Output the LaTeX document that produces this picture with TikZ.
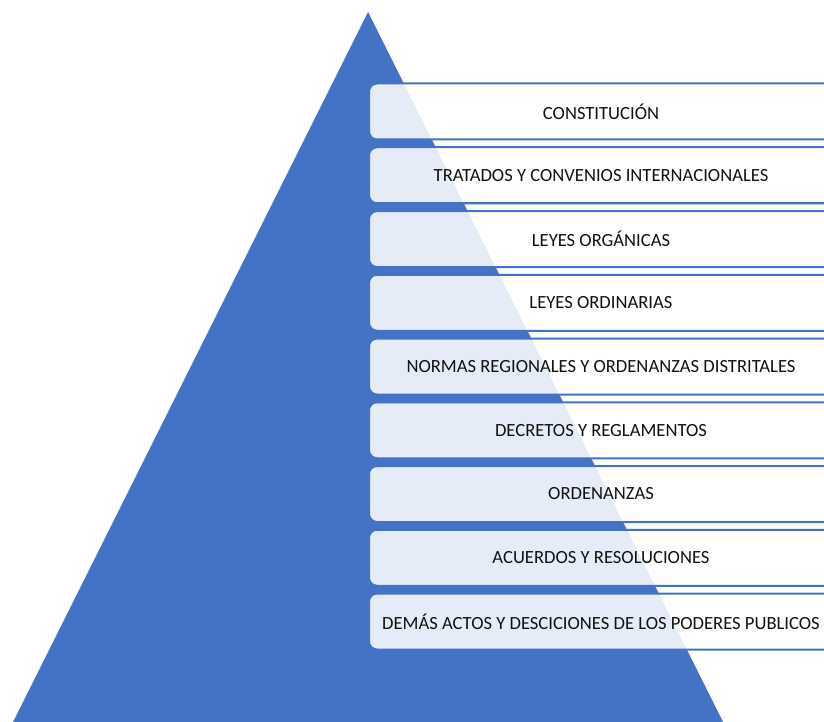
\documentclass[tikz,border=0pt]{standalone}
\usepackage{fontspec}
\setmainfont{Carlito}
\definecolor{pyrblue}{HTML}{4472C4}
\definecolor{tiertext}{HTML}{111111}

\begin{document}
\begin{tikzpicture}[
                    x=1pt,
                    y=-1pt,
                    tier/.style={
                        draw=pyrblue,
                        line width=2pt,
                        fill=white,
                        fill opacity=0.87,
                        text opacity=1,
                        text=tiertext,
                        rounded corners=8pt,
                        minimum width=464pt,
                        minimum height=56pt,
                        inner sep=0pt,
                        font=\fontsize{18.6}{20}\selectfont
                    }
                ]
                \clip (0,0) rectangle (824,722);
                % pyramid
                \fill[pyrblue] (368,12) -- (13,722) -- (723,722) -- cycle;
                % tiers
                \foreach \txt [count=\i] in {
                    CONSTITUCIÓN,
                    TRATADOS Y CONVENIOS INTERNACIONALES,
                    LEYES ORGÁNICAS,
                    LEYES ORDINARIAS,
                    NORMAS REGIONALES Y ORDENANZAS DISTRITALES,
                    DECRETOS Y REGLAMENTOS,
                    ORDENANZAS,
                    ACUERDOS Y RESOLUCIONES,
                    DEMÁS ACTOS Y DESCICIONES DE LOS PODERES PUBLICOS}
                {
                    \node[tier] (tier\i) at (601,{111.5+63.75*(\i-1)}) {\txt};
                }
            \end{tikzpicture}
\end{document}
